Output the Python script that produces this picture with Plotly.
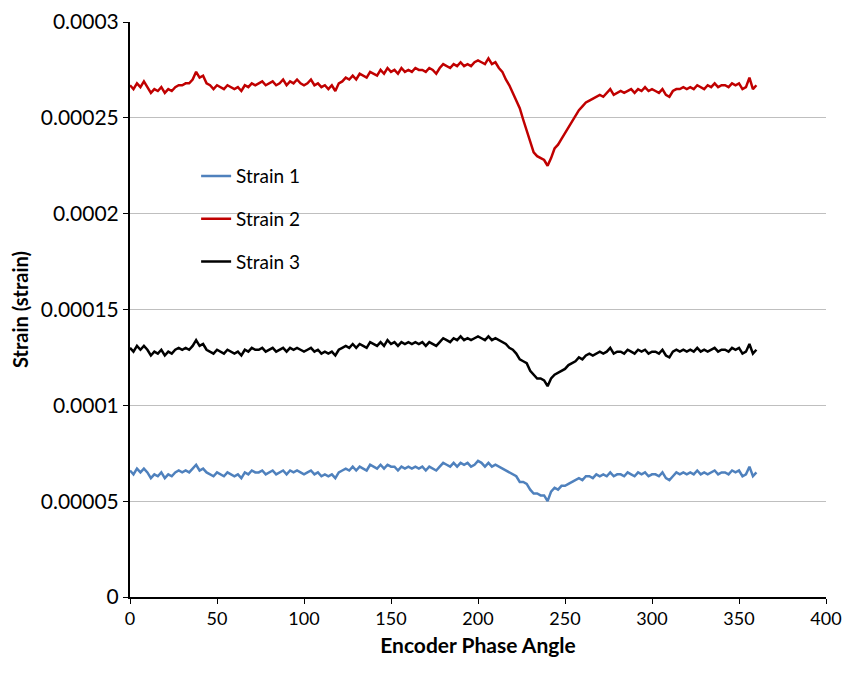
import plotly.graph_objects as go

# Encoder phase angle (deg), every 2 degrees
angle = list(range(0, 361, 2))

# Strain values in microstrain
strain_2 = [
    267, 265, 268, 266, 269, 266, 263, 265, 264, 266, 263,
    265, 264, 266, 267, 267, 268, 268, 270, 274, 271,
    272, 268, 267, 265, 267, 266, 265, 267, 266, 265,
    266, 264, 267, 266, 268, 267, 268, 269, 267, 268,
    269, 267, 268, 270, 267, 269, 268, 270, 268, 267,
    268, 270, 267, 268, 266, 267, 265, 267, 264, 268,
    269, 271, 270, 272, 270, 273, 272, 271, 274, 273,
    272, 275, 273, 276, 274, 275, 273, 276, 274, 275,
    274, 276, 275, 275, 274, 276, 275, 273, 276, 278,
    277, 276, 278, 277, 279, 277, 278, 277, 279, 280,
    279, 278, 281, 278, 279, 276, 274, 270, 267, 263,
    259, 255, 249, 243, 237, 232, 230, 229, 228, 225,
    229, 234, 236, 239, 242, 245, 248, 251, 254, 256,
    258, 259, 260, 261, 262, 261, 263, 265, 262, 263,
    264, 263, 264, 265, 263, 265, 264, 266, 264, 265,
    264, 263, 265, 262, 261, 264, 265, 265, 266, 265,
    266, 265, 267, 266, 265, 267, 266, 268, 266, 267,
    267, 266, 268, 267, 268, 265, 266, 271, 265, 267,
]

strain_3 = [
    130, 128, 131, 129, 131, 129, 126, 128, 127, 129, 126,
    128, 127, 129, 130, 129, 130, 129, 131, 134, 131,
    132, 129, 128, 127, 129, 128, 127, 129, 128, 127,
    128, 126, 129, 128, 130, 129, 129, 130, 128, 129,
    130, 128, 129, 130, 128, 130, 129, 130, 129, 128,
    129, 130, 128, 129, 127, 128, 127, 128, 126, 129,
    130, 131, 130, 132, 130, 132, 131, 130, 133, 132,
    131, 133, 131, 134, 132, 133, 131, 133, 132, 133,
    132, 133, 132, 133, 131, 133, 132, 131, 133, 135,
    134, 133, 135, 134, 136, 134, 135, 134, 135, 136,
    135, 134, 136, 134, 135, 134, 133, 132, 130, 129,
    127, 124, 123, 122, 118, 116, 114, 114, 113, 110,
    114, 116, 117, 118, 119, 121, 122, 123, 125, 124,
    126, 127, 126, 127, 128, 127, 128, 130, 127, 128,
    128, 127, 129, 128, 127, 129, 128, 129, 127, 128,
    128, 127, 129, 126, 125, 128, 129, 128, 129, 128,
    129, 128, 130, 128, 129, 128, 129, 130, 128, 129,
    129, 128, 130, 129, 130, 127, 128, 132, 127, 129,
]

strain_1 = [
    66, 64, 67, 65, 67, 65, 62, 64, 63, 65, 62,
    64, 63, 65, 66, 65, 66, 65, 67, 69, 66,
    67, 65, 64, 63, 65, 64, 63, 65, 64, 63,
    64, 62, 65, 64, 66, 65, 65, 66, 64, 65,
    66, 64, 65, 66, 64, 66, 65, 66, 65, 64,
    65, 66, 64, 65, 63, 64, 63, 64, 62, 65,
    66, 67, 66, 68, 66, 68, 67, 66, 69, 68,
    67, 69, 67, 69, 68, 68, 66, 68, 67, 68,
    67, 68, 67, 68, 66, 68, 67, 66, 68, 70,
    69, 68, 70, 68, 70, 69, 70, 68, 69, 71,
    70, 68, 70, 68, 69, 68, 67, 66, 65, 64,
    63, 60, 60, 59, 56, 54, 54, 53, 53, 50,
    55, 57, 56, 58, 58, 59, 60, 61, 62, 61,
    63, 63, 62, 64, 63, 64, 63, 65, 63, 64,
    64, 63, 65, 64, 63, 65, 64, 65, 63, 64,
    64, 63, 65, 62, 61, 63, 65, 64, 65, 64,
    65, 64, 66, 64, 65, 64, 65, 66, 64, 65,
    65, 64, 66, 65, 66, 63, 64, 68, 63, 65,
]

y_ticks = [0, 0.00005, 0.0001, 0.00015, 0.0002, 0.00025, 0.0003]
y_tick_text = ["0", "0.00005", "0.0001", "0.00015", "0.0002", "0.00025", "0.0003"]
x_ticks = [0, 50, 100, 150, 200, 250, 300, 350, 400]

FONT = "Lato, 'Open Sans', sans-serif"

fig = go.Figure()
series = [
    ("Strain 1", strain_1, "#4F81BD"),
    ("Strain 2", strain_2, "#C00000"),
    ("Strain 3", strain_3, "#000000"),
]
for name, vals, color in series:
    fig.add_trace(go.Scatter(
        x=angle, y=[v * 1e-6 for v in vals],
        mode="lines", name=name, legendgroup=name,
        line=dict(color=color, width=2.5),
    ))

# page body adds an 8px margin all round; figure sized so no scrollbar appears
fig.update_layout(
    width=834, height=657,
    margin=dict(l=122, r=16, t=14, b=68),
    plot_bgcolor="white", paper_bgcolor="white",
    font=dict(family=FONT, size=21, color="#000000"),
    legend=dict(
        x=0.095, y=0.765, xanchor="left", yanchor="top",
        bgcolor="rgba(0,0,0,0)", tracegroupgap=15,
        font=dict(family=FONT, size=19, color="#000000"),
    ),
)
fig.update_xaxes(
    range=[0, 400], tickvals=x_ticks,
    showgrid=False, zeroline=False, automargin=False,
    showline=True, linecolor="#000000", linewidth=1.5,
    ticks="outside", ticklen=5, tickcolor="#000000",
    tickfont=dict(size=18), ticklabeloverflow="allow",
    title=dict(text="<b>Encoder Phase Angle</b>", font=dict(size=21), standoff=10),
)
fig.update_yaxes(
    range=[0, 0.0003], tickvals=y_ticks, ticktext=y_tick_text,
    showgrid=True, gridcolor="#BFBFBF", gridwidth=1, zeroline=False, automargin=False,
    showline=True, linecolor="#000000", linewidth=2,
    ticks="outside", ticklen=5, tickcolor="#000000",
    tickfont=dict(size=21), ticklabeloverflow="allow",
    title=dict(text="<b>Strain (strain)</b>", font=dict(size=20), standoff=8),
)

fig.write_html("out.html")
